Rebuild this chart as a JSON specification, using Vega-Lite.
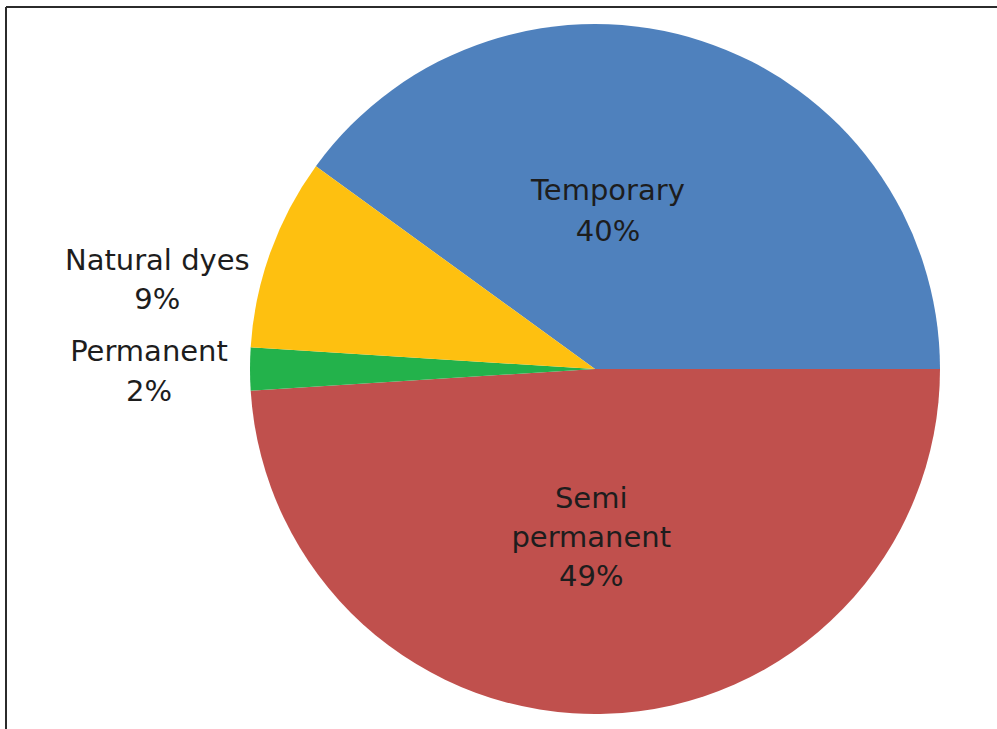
{
  "$schema": "https://vega.github.io/schema/vega-lite/v6.json",
  "width": 991,
  "height": 722,
  "autosize": {"type": "none"},
  "padding": {"left": 6, "top": 7, "right": 0, "bottom": 0},
  "background": "white",
  "config": {"view": {"stroke": null}},
  "data": {
    "values": [
      {"category": "Temporary", "label": "Temporary\n40%", "value": 40},
      {"category": "Semi permanent", "label": "Semi\npermanent\n49%", "value": 49},
      {"category": "Permanent", "label": "Permanent\n2%", "value": 2},
      {"category": "Natural dyes", "label": "Natural dyes\n9%", "value": 9}
    ]
  },
  "layer": [
    {
      "mark": {"type": "rule", "stroke": "#2b2b2b", "strokeWidth": 2},
      "encoding": {"x": {"value": 0}, "y": {"value": 0}, "x2": {"value": "width"}}
    },
    {
      "mark": {"type": "rule", "stroke": "#2b2b2b", "strokeWidth": 2},
      "encoding": {"x": {"value": 0}, "y": {"value": 0}, "y2": {"value": "height"}}
    },
    {
      "encoding": {
        "theta": {"field": "value", "type": "quantitative", "stack": true, "scale": {"range": [-0.9424778, 5.3407075]}},
        "order": {"field": "category", "sort": "descending"}
      },
      "layer": [
        {
          "mark": {"type": "arc", "x": 589, "y": 362, "outerRadius": 345},
          "encoding": {
            "color": {
              "field": "category",
              "type": "nominal",
              "scale": {
                "domain": ["Temporary", "Semi permanent", "Permanent", "Natural dyes"],
                "range": ["#4F81BD", "#C0504D", "#23B24B", "#FEC010"]
              },
              "legend": null
            }
          }
        },
        {
          "mark": {"type": "text", "x": 589, "y": 362, "radius": 165, "dx": -38, "dy": -21, "font": "DejaVu Sans", "fontSize": 29, "lineHeight": 41, "lineBreak": "\n", "align": "center", "baseline": "middle", "color": "#1d1d1d"},
          "encoding": {"text": {"condition": {"test": "datum.category === 'Temporary'", "field": "label"}, "value": ""}}
        },
        {
          "mark": {"type": "text", "x": 589, "y": 362, "radius": 166, "dx": -9, "dy": -36, "font": "DejaVu Sans", "fontSize": 29, "lineHeight": 39, "lineBreak": "\n", "align": "center", "baseline": "middle", "color": "#1d1d1d"},
          "encoding": {"text": {"condition": {"test": "datum.category === 'Semi permanent'", "field": "label"}, "value": ""}}
        },
        {
          "mark": {"type": "text", "x": 589, "y": 362, "radius": 446, "dx": 0, "dy": -17, "font": "DejaVu Sans", "fontSize": 29, "lineHeight": 40, "lineBreak": "\n", "align": "center", "baseline": "middle", "color": "#1d1d1d"},
          "encoding": {"text": {"condition": {"test": "datum.category === 'Permanent'", "field": "label"}, "value": ""}}
        },
        {
          "mark": {"type": "text", "x": 589, "y": 362, "radius": 445, "dx": -19, "dy": 43, "font": "DejaVu Sans", "fontSize": 29, "lineHeight": 39, "lineBreak": "\n", "align": "center", "baseline": "middle", "color": "#1d1d1d"},
          "encoding": {"text": {"condition": {"test": "datum.category === 'Natural dyes'", "field": "label"}, "value": ""}}
        }
      ]
    }
  ]
}
